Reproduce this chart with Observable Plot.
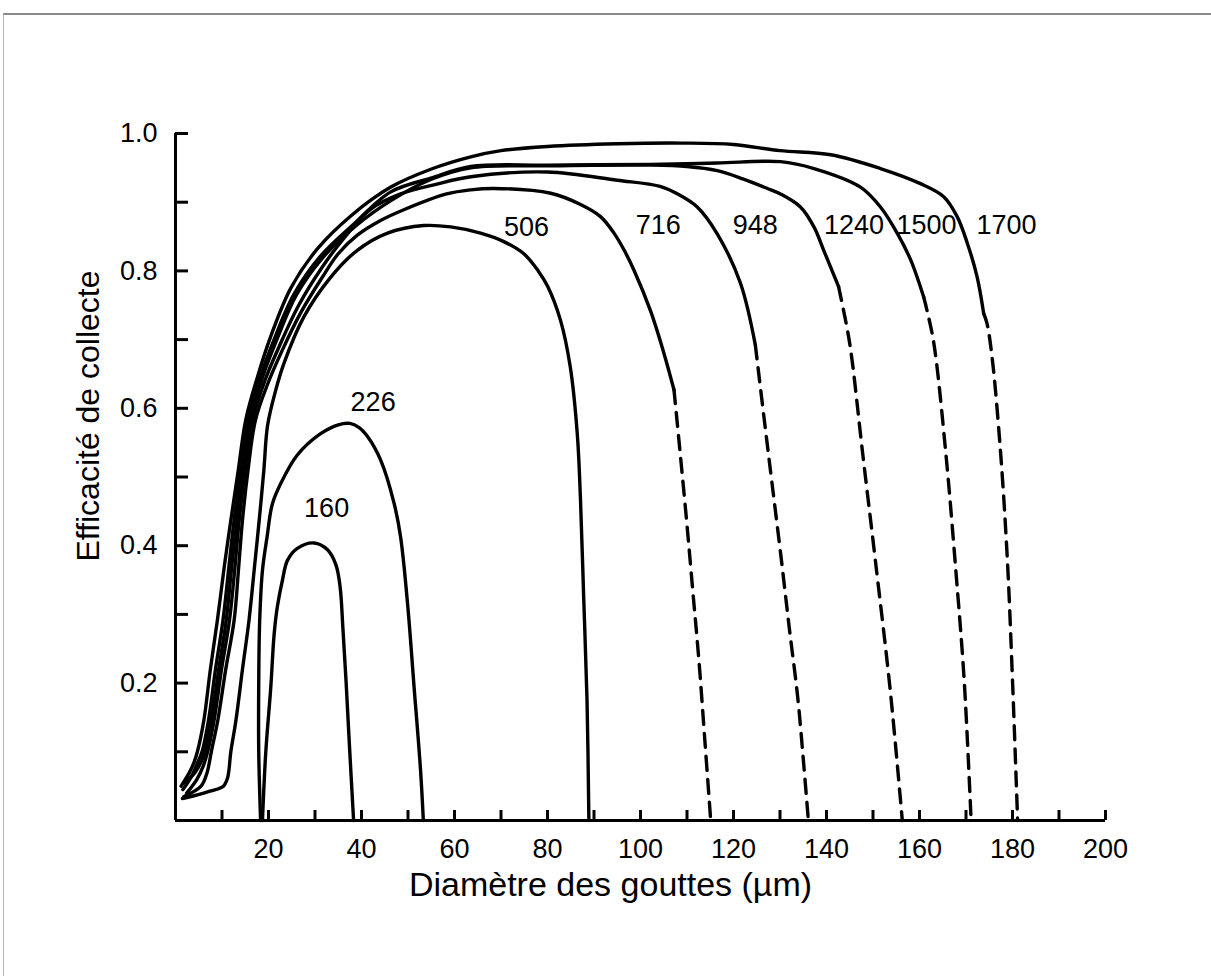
<!DOCTYPE html>
<html>
<head>
<meta charset="utf-8">
<script src="https://cdn.jsdelivr.net/npm/d3@7"></script>
<script src="https://cdn.jsdelivr.net/npm/@observablehq/plot@0.6"></script>
<style>
  html, body { margin: 0; padding: 0; background: #fff; }
  #wrap { position: relative; width: 1211px; height: 976px; overflow: hidden; }
  #frame { position: absolute; left: 3px; top: 13px; right: 0; bottom: 0;
           border-top: 2px solid #8a8a8a; border-left: 1px solid #b5b5b5; pointer-events: none; }
</style>
</head>
<body>
<div id="wrap"><div id="frame"></div></div>
<script>
// ---- tick values ----
const xTicks = [10, 20, 30, 40, 50, 60, 70, 80, 90, 100, 110, 120, 130, 140, 150, 160, 170, 180, 190, 200];
const yTicks = [0.1, 0.2, 0.3, 0.4, 0.5, 0.6, 0.7, 0.8, 0.9, 1.0];

// ---- curves (x = droplet diameter µm, y = collection efficiency) ----
const c160 = [[18.7,0],[19.4,0.098],[20.5,0.195],[21.2,0.27],[21.9,0.311],[23.0,0.35],[24.1,0.379],[26.2,0.396],[29.8,0.404],[32.7,0.394],[34.5,0.372],[35.4,0.34],[36.0,0.28],[36.7,0.2],[37.4,0.11],[38.3,0]];
const c226 = [[18.3,0],[17.9,0.1],[17.9,0.2],[18.1,0.29],[18.7,0.364],[19.7,0.413],[20.8,0.46],[22.6,0.49],[26.2,0.532],[31.2,0.563],[35,0.576],[37.5,0.578],[39.5,0.572],[41.3,0.559],[44.1,0.525],[47,0.462],[48.4,0.413],[49.9,0.316],[51.3,0.195],[52.7,0.073],[53.3,0]];
const c506 = [[1.5,0.032],[4,0.036],[7.6,0.043],[10.3,0.05],[11.2,0.062],[11.9,0.1],[13.0,0.146],[14.4,0.22],[15.8,0.291],[17,0.37],[18.0,0.437],[19,0.51],[19.8,0.575],[21.5,0.625],[23.3,0.665],[27.6,0.733],[33.4,0.791],[39.1,0.83],[45.6,0.855],[53.4,0.866],[59.2,0.864],[65.6,0.855],[70.5,0.843],[74.9,0.825],[78,0.8],[80,0.778],[82.8,0.728],[84.9,0.66],[86.4,0.563],[87.1,0.466],[87.8,0.321],[88.5,0.175],[88.9,0]];
const c716 = [[1.8,0.035],[5.5,0.05],[6.8,0.07],[7.7,0.1],[9.1,0.146],[10.8,0.22],[12.6,0.291],[13.6,0.37],[14.4,0.437],[15.6,0.51],[17.2,0.583],[19.8,0.635],[23,0.685],[27,0.74],[31.5,0.79],[35,0.825],[39.1,0.852],[44,0.873],[49.1,0.889],[58.3,0.912],[63.5,0.918],[68.5,0.92],[80.7,0.913],[87,0.897],[91.4,0.879],[94.3,0.855],[96.5,0.83],[98.6,0.801],[102.2,0.741],[105,0.681],[107.2,0.627]];
const c716dash = [[107.2,0.627],[108.6,0.53],[110,0.43],[111.3,0.33],[112.6,0.23],[113.8,0.12],[115.1,0]];
const c948 = [[2.4,0.04],[4.6,0.06],[6.0,0.08],[6.9,0.1],[8.3,0.146],[9.9,0.22],[11.6,0.291],[12.8,0.37],[13.7,0.437],[15.0,0.51],[16.6,0.583],[19.2,0.64],[22.3,0.69],[26.5,0.75],[31.5,0.805],[36.5,0.85],[42,0.89],[48.4,0.912],[56,0.926],[63.5,0.937],[80,0.944],[95,0.932],[104.2,0.923],[108.5,0.91],[112.2,0.893],[116.5,0.854],[121.5,0.782],[124.7,0.692]];
const c948dash = [[124.7,0.692],[126.5,0.59],[128.3,0.49],[130.2,0.385],[132,0.28],[133.8,0.18],[135,0.09],[136.1,0]];
const c1240 = [[2.0,0.055],[4.2,0.07],[5.5,0.085],[6.3,0.1],[7.7,0.146],[9.3,0.22],[10.9,0.291],[12.1,0.37],[13.2,0.437],[14.6,0.51],[16.2,0.583],[18.7,0.645],[21.8,0.7],[26,0.765],[31.5,0.818],[38.5,0.864],[46.5,0.903],[54.9,0.933],[63.5,0.95],[80,0.953],[102.2,0.954],[110,0.952],[116.5,0.946],[122,0.934],[127.3,0.92],[130.1,0.912],[134.4,0.893],[137.3,0.864],[139.4,0.83],[142.6,0.777]];
const c1240dash = [[142.6,0.777],[144.5,0.714],[145.5,0.67],[147.7,0.539],[150.5,0.379],[153.7,0.19],[156.3,0]];
const c1500 = [[1.6,0.045],[3.5,0.065],[4.8,0.085],[5.7,0.1],[7.1,0.146],[8.6,0.22],[10.2,0.291],[11.5,0.37],[12.6,0.437],[14.1,0.51],[15.7,0.583],[18.2,0.645],[21.2,0.7],[25.4,0.765],[31,0.82],[38,0.866],[46.3,0.915],[54.9,0.935],[63.5,0.952],[80,0.954],[102.2,0.955],[116.5,0.957],[130.1,0.959],[137.3,0.949],[147.3,0.922],[151.6,0.893],[155.2,0.855],[158.1,0.816],[160.9,0.762]];
const c1500dash = [[160.9,0.762],[161.6,0.743],[163.1,0.694],[165.6,0.539],[167.8,0.365],[169.6,0.205],[171.1,0]];
const c1700 = [[1.2,0.05],[3.0,0.07],[4.0,0.085],[4.7,0.1],[6.1,0.146],[7.5,0.22],[9.0,0.291],[10.5,0.37],[11.9,0.437],[13.5,0.51],[15.1,0.583],[17.6,0.645],[20.5,0.705],[24.8,0.775],[30.5,0.832],[37.7,0.88],[46.3,0.922],[54.9,0.948],[63.5,0.966],[70,0.975],[80,0.981],[95,0.985],[109,0.986],[120,0.984],[130,0.975],[140.9,0.969],[151.6,0.949],[160.2,0.927],[165.2,0.908],[168.1,0.879],[170.3,0.84],[172.4,0.791],[173.8,0.738]];
const c1700dash = [[173.8,0.738],[174.5,0.724],[175.6,0.675],[177.4,0.539],[178.9,0.379],[180,0.204],[181.1,0]];

// ---- curve labels ----
const labelNames = ["160", "226", "506", "716", "948", "1240", "1500", "1700"];
const labelX = [32.5, 42.5, 75.5, 103.8, 124.7, 145.9, 161.5, 178.7];
const labelY = [0.455, 0.608, 0.864, 0.867, 0.867, 0.866, 0.866, 0.866];

const xTitle = "Diamètre des gouttes (µm)";
const yTitle = "Efficacité de collecte";

// ---- build tables ----
const solidSeries = {"160": c160, "226": c226, "506": c506, "716": c716, "948": c948, "1240": c1240, "1500": c1500, "1700": c1700};
const dashSeries = {"716": c716dash, "948": c948dash, "1240": c1240dash, "1500": c1500dash, "1700": c1700dash};
const toRows = (obj) => Object.entries(obj).flatMap(([k, pts]) => pts.map(([x, y]) => ({series: k, x, y})));
const solidRows = toRows(solidSeries);
const dashRows = toRows(dashSeries);
const labels = labelNames.map((t, i) => ({t, x: labelX[i], y: labelY[i]}));

const chart = Plot.plot({
  width: 1211,
  height: 976,
  marginLeft: 175,
  marginRight: 106,
  marginTop: 133,
  marginBottom: 156,
  x: {domain: [0, 200], label: null},
  y: {domain: [0, 1], label: null},
  style: {fontFamily: "'Liberation Sans', Arial, sans-serif", fontSize: "26px", background: "transparent", color: "black"},
  marks: [
    Plot.line(solidRows, {x: "x", y: "y", z: "series", curve: "catmull-rom", stroke: "black", strokeWidth: 3.4}),
    Plot.line(dashRows, {x: "x", y: "y", z: "series", curve: "catmull-rom", stroke: "black", strokeWidth: 3.4, strokeDasharray: "14,9"}),
    Plot.ruleX([0], {strokeWidth: 3}),
    Plot.ruleY([0], {strokeWidth: 3}),
    Plot.axisX(xTicks, {tickSize: -10, tickPadding: 28, strokeWidth: 3, fontSize: 27, label: null,
      tickFormat: d => (d % 20 === 0 ? String(d) : "")}),
    Plot.axisY(yTicks, {tickSize: -13, tickPadding: 31, strokeWidth: 3, fontSize: 27, label: null,
      tickFormat: d => (Math.round(d * 10) % 2 === 0 ? d.toFixed(1) : "")}),
    Plot.text(labels, {x: "x", y: "y", text: "t", fontSize: 27}),
    Plot.text([xTitle], {frameAnchor: "bottom", textAnchor: "middle", lineAnchor: "middle", dy: 65, dx: -30, fontSize: 34}),
    Plot.text([yTitle], {frameAnchor: "left", textAnchor: "middle", lineAnchor: "middle", rotate: -90, dx: -87, dy: -61, fontSize: 32})
  ]
});
document.getElementById("wrap").prepend(chart);
</script>
</body>
</html>
